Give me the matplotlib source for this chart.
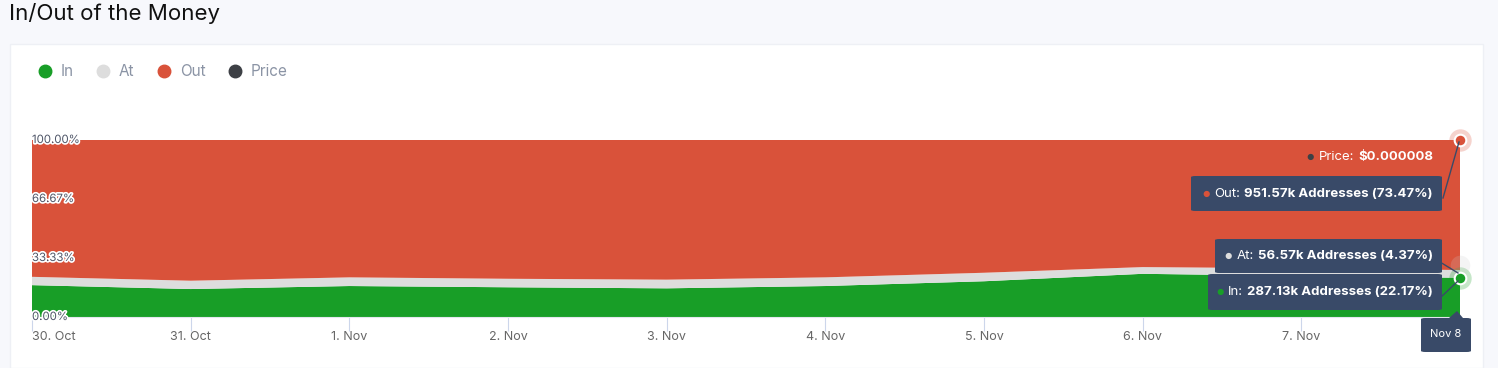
import matplotlib
matplotlib.use("Agg")
import matplotlib.pyplot as plt
from matplotlib.patches import Rectangle, FancyBboxPatch, Polygon
from matplotlib.lines import Line2D
from matplotlib.offsetbox import TextArea, HPacker, AnnotationBbox
import matplotlib.patheffects as pe

plt.rcParams['font.family'] = ['Inter', 'DejaVu Sans']

# ---- data ----
dates = ["30. Oct", "31. Oct", "1. Nov", "2. Nov", "3. Nov", "4. Nov",
         "5. Nov", "6. Nov", "7. Nov", "Nov 8"]
in_pct = [18.0, 15.8, 17.5, 16.8, 16.2, 17.5, 20.2, 24.4, 23.2, 22.17]
at_pct = [4.7, 4.7, 4.9, 4.8, 4.9, 4.9, 4.8, 3.8, 4.3, 4.37]
out_pct = [100 - a - b for a, b in zip(in_pct, at_pct)]
ytick_vals = [0, 33.33, 66.67, 100]
ytick_labels = ["0.00%", "33.33%", "66.67%", "100.00%"]
legend_names = ["In", "At", "Out", "Price"]
tooltip_out = ("Out:", "951.57k Addresses (73.47%)")
tooltip_at = ("At:", "56.57k Addresses (4.37%)")
tooltip_in = ("In:", "287.13k Addresses (22.17%)")
tooltip_price = ("Price:", r"\$0.000008")
tooltip_date = "Nov 8"

C_IN, C_AT, C_OUT, C_PRICE = "#189e27", "#dddddd", "#d9523a", "#3d4045"
C_TIP = "#394a68"

W, H = 1498, 368
fig = plt.figure(figsize=(W / 100, H / 100), dpi=100)
fig.patch.set_facecolor("#f7f8fc")

def fx(x):
    return x / W

def fy(y):
    return 1 - y / H

# card
fig.add_artist(Rectangle((fx(10), 0), fx(1483 - 10), fy(44), transform=fig.transFigure,
                         facecolor="white", edgecolor="#eef0f5", lw=1, zorder=0))

fig.text(fx(9), fy(14), "In/Out of the Money", fontsize=16, color="#111111",
         ha="left", va="center")

# legend
leg_x = [45, 103, 164, 235]
leg_cols = [C_IN, C_AT, C_OUT, C_PRICE]
for x, name, c in zip(leg_x, legend_names, leg_cols):
    fig.add_artist(Line2D([fx(x)], [fy(71)], marker="o", markersize=9, color=c,
                          transform=fig.transFigure, linestyle="none"))
    fig.text(fx(x + 16), fy(71), name, fontsize=11, color="#8b94a5",
             ha="left", va="center")

# axes
ax = fig.add_axes([fx(32), 51 / H, 1428 / W, 177 / H])
x = list(range(len(dates)))
ax.stackplot(x, in_pct, at_pct, out_pct, colors=[C_IN, C_AT, C_OUT], linewidth=0)
ax.set_xlim(0, len(dates) - 1)
ax.set_ylim(0, 100)
ax.set_facecolor("none")
for s in ["top", "right", "left"]:
    ax.spines[s].set_visible(False)
ax.spines["bottom"].set_color("#e3e7ef")
ax.set_yticks([])
ax.set_xticks(x[:-1])
ax.set_xticklabels(dates[:-1], fontsize=9, color="#666666")
ax.tick_params(axis="x", length=10, color="#ccd6eb", pad=0)
ax.get_xticklabels()[0].set_ha("left")

for v, lab in zip(ytick_vals, ytick_labels):
    ax.text(0, v, lab, transform=ax.get_yaxis_transform(), fontsize=8.2,
            color="#4f5668", ha="left", va="center", zorder=5,
            path_effects=[pe.withStroke(linewidth=2.4, foreground="white")])

# highlighted points at last date
last = len(dates) - 1
top_in = in_pct[-1]
top_at = in_pct[-1] + at_pct[-1]
ax.scatter([last], [100], s=260, color=C_OUT, alpha=0.25, clip_on=False, zorder=6, lw=0)
ax.scatter([last], [top_in], s=260, color=C_IN, alpha=0.25, clip_on=False, zorder=6, lw=0)
ax.scatter([last], [top_at + 3], s=200, color="#cccccc", alpha=0.2, clip_on=False, zorder=6, lw=0)
ax.scatter([last], [100], s=70, color=C_OUT, edgecolor="white", lw=1.5, clip_on=False, zorder=7)
ax.scatter([last], [top_in], s=70, color=C_IN, edgecolor="white", lw=1.5, clip_on=False, zorder=7)

# tooltip boxes (pixel layout)
def box(x0, y0, x1, y1):
    fig.add_artist(FancyBboxPatch((fx(x0), fy(y1)), fx(x1 - x0), (y1 - y0) / H,
                                  boxstyle="round,pad=0,rounding_size=0.003",
                                  transform=fig.transFigure, facecolor=C_TIP,
                                  edgecolor="none", zorder=8))

def tip_text(xr, yc, dot_color, parts, size=9.5):
    children = [TextArea("\u25CF", textprops=dict(color=dot_color, fontsize=6)),
                TextArea(parts[0], textprops=dict(color="white", fontsize=size)),
                TextArea(parts[1], textprops=dict(color="white", fontsize=size,
                                                  fontweight="bold"))]
    pk = HPacker(children=children, align="center", pad=0, sep=3)
    ab = AnnotationBbox(pk, (xr, H - yc), xycoords="figure pixels",
                        box_alignment=(1, 0.5), frameon=False, zorder=9)
    fig.add_artist(ab)

def connector(x0, y0, x1, y1):
    fig.add_artist(Line2D([fx(x0), fx(x1)], [fy(y0), fy(y1)], color=C_TIP, lw=1,
                          transform=fig.transFigure, zorder=8))

connector(1443, 198, 1459, 142)
connector(1440, 262, 1458, 273)
connector(1440, 298, 1458, 281)

box(1191, 176, 1442, 211)
box(1215, 239, 1442, 273)
box(1208, 274, 1442, 310)
tip_text(1433, 194, C_OUT, tooltip_out)
tip_text(1433, 256, "#dddddd", tooltip_at)
tip_text(1433, 292, C_IN, tooltip_in)
tip_text(1433, 157, C_PRICE, tooltip_price)

# date tooltip
box(1421, 318, 1471, 352)
fig.add_artist(Polygon([(fx(1449), fy(318)), (fx(1457), fy(311)), (fx(1463), fy(318))],
                       closed=True, transform=fig.transFigure, facecolor=C_TIP,
                       edgecolor="none", zorder=8))
fig.text(fx(1446), fy(334), tooltip_date, fontsize=8, color="white",
         ha="center", va="center", zorder=10)

fig.savefig("out.png", dpi=100, facecolor=fig.get_facecolor())
